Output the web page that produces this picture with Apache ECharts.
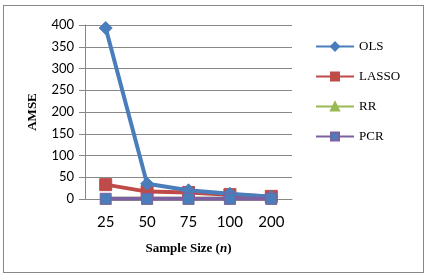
<!DOCTYPE html>
<html>
<head>
<meta charset="utf-8">
<script src="https://cdn.jsdelivr.net/npm/echarts@6/dist/echarts.min.js"></script>
<style>
  html, body { margin: 0; padding: 0; background: #fff; }
  #frame { position: absolute; left: 3px; top: 5px; width: 419px; height: 266px; border: 1px solid #888; }
  #chart { position: absolute; left: 0; top: 0; width: 428px; height: 277px; }
</style>
</head>
<body>
<div id="frame"></div>
<div id="chart"></div>
<script>
// sample sizes
var sizes = ['25', '50', '75', '100', '200'];
var ols = [393, 35, 20, 12, 5];
var lasso = [33, 17, 15, 10, 6];
var rr = [0.3, 0.3, 0.3, 0.3, 0.3];
var pcr = [0.5, 0.5, 0.5, 0.5, 0.5];
var yTicks = [0, 50, 100, 150, 200, 250, 300, 350, 400];

var chart = echarts.init(document.getElementById('chart'));

function line(name, data, color, symbol, size, markColor, z) {
    return {
        name: name,
        type: 'line',
        data: data,
        symbol: symbol,
        symbolSize: size,
        z: z,
        lineStyle: { color: color, width: 4 },
        itemStyle: { color: markColor || color, borderColor: color, borderWidth: 1 }
    };
}

var titleFont = { fontFamily: 'Liberation Serif', fontWeight: 'bold', fontSize: 13, color: '#000' };

var option = {
    animation: false,
    grid: { left: 85, right: 136, top: 25, bottom: 78 },
    legend: {
        orient: 'vertical',
        left: 310,
        top: 35,
        itemWidth: 38,
        itemHeight: 10,
        itemGap: 17,
        textStyle: { fontFamily: 'Liberation Serif', fontSize: 13, color: '#000' },
        data: ['OLS', 'LASSO', 'RR', 'PCR']
    },
    xAxis: {
        type: 'category',
        data: sizes,
        boundaryGap: true,
        name: '{a|Sample Size (}{b|n}{a|)}',
        nameLocation: 'middle',
        nameGap: 43,
        nameTextStyle: {
            rich: {
                a: titleFont,
                b: { fontFamily: 'Liberation Serif', fontWeight: 'bold', fontStyle: 'italic', fontSize: 13, color: '#000' }
            }
        },
        axisLine: { lineStyle: { color: '#888' } },
        axisTick: { length: 5, lineStyle: { color: '#888' } },
        axisLabel: { fontFamily: 'Lato', fontSize: 15, color: '#000', margin: 16 }
    },
    yAxis: {
        type: 'value',
        min: yTicks[0],
        max: yTicks[yTicks.length - 1],
        interval: 50,
        name: 'AMSE',
        nameLocation: 'middle',
        nameGap: 46,
        nameTextStyle: titleFont,
        axisLine: { show: true, lineStyle: { color: '#888' } },
        axisTick: { show: true, length: 6, lineStyle: { color: '#888' } },
        splitLine: { lineStyle: { color: '#888' } },
        axisLabel: { fontFamily: 'Lato', fontSize: 13, color: '#000', margin: 11 }
    },
    series: [
        line('OLS', ols, '#4A7EBB', 'diamond', 13, null, 4),
        line('LASSO', lasso, '#BE4B48', 'rect', 12, null, 3),
        line('RR', rr, '#98B954', 'triangle', 11, null, 2),
        line('PCR', pcr, '#7D60A0', 'path://M0,0H10V10H0Z', 11, '#4A7EBB', 5)
    ]
};

chart.setOption(option);
</script>
</body>
</html>
